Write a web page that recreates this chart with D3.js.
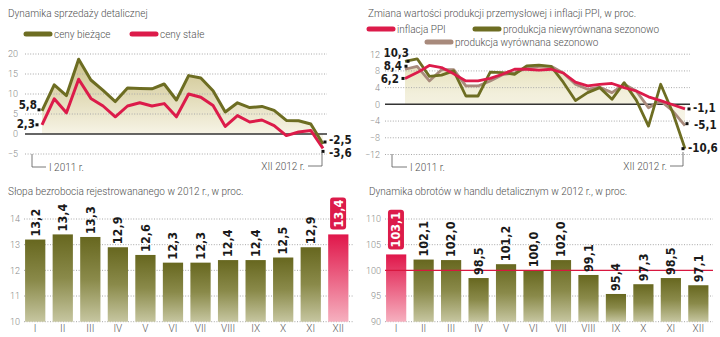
<!DOCTYPE html>
<html><head><meta charset="utf-8">
<script src="https://cdn.jsdelivr.net/npm/d3@7"></script>
<style>
body{margin:0;background:#fff}
svg{display:block}
text{font-family:Roboto,"Open Sans",sans-serif}
.bold{font-family:"Liberation Sans Narrow","DejaVu Sans Condensed","Roboto Condensed",sans-serif;font-weight:bold;font-stretch:condensed}
</style>
</head><body>
<svg id="c" width="720" height="337"></svg>
<script>
// ---------- DATA ----------
const months24 = ["I 2011","II 2011","III 2011","IV 2011","V 2011","VI 2011","VII 2011","VIII 2011","IX 2011","X 2011","XI 2011","XII 2011",
                  "I 2012","II 2012","III 2012","IV 2012","V 2012","VI 2012","VII 2012","VIII 2012","IX 2012","X 2012","XI 2012","XII 2012"];
const retailCurrent  = [5.8,12.3,9.6,18.7,13.5,10.9,8.1,11.5,11.4,11.3,12.5,8.5, 14.6,14.0,10.8,5.5,7.8,6.6,6.9,5.9,3.4,3.3,2.5,-2.5];
const retailConstant = [2.3,8.8,5.3,13.7,8.9,7.0,4.3,7.0,7.8,7.0,7.6,4.3, 10.0,9.2,7.1,1.9,4.6,3.0,3.5,2.1,-0.4,0.5,0.9,-3.6];
const ppi            = [6.2,7.6,9.3,8.8,7.3,5.6,5.6,6.2,7.2,8.4,8.4,8.2, 8.4,7.5,5.3,4.4,4.8,5.0,4.0,3.2,1.8,0.9,-0.1,-1.1];
const prodUnadjusted = [10.3,10.9,6.7,7.0,8.0,2.0,2.0,7.7,7.6,7.2,9.2,9.4, 9.1,5.3,0.9,2.8,4.0,1.2,5.2,1.0,-5.2,4.8,-2.0,-10.6];
const prodAdjusted   = [8.4,9.1,5.6,8.3,8.3,4.4,4.4,5.6,7.1,7.5,8.7,9.1, 9.1,7.5,4.8,3.6,4.1,2.8,4.8,3.2,-0.8,0.8,-1.6,-5.1];
const months12 = ["I","II","III","IV","V","VI","VII","VIII","IX","X","XI","XII"];
const unemployment = [13.2,13.4,13.3,12.9,12.6,12.3,12.3,12.4,12.4,12.5,12.9,13.4];
const retailIndex  = [103.1,102.1,102.0,98.5,101.2,100.0,102.0,99.1,95.4,97.3,98.5,97.1];
const ticks1 = [-5,0,5,10,15,20];
const ticks2 = [-12,-8,-4,0,4,8,12];
const ticks3 = [10,11,12,13,14];
const ticks4 = [90,95,100,105,110];
const titles = ["Dynamika sprzedaży detalicznej",
  "Zmiana wartości produkcji przemysłowej i inflacji PPI, w proc.",
  "Słopa bezrobocia rejestrowananego w 2012 r., w proc.",
  "Dynamika obrotów w handlu detalicznym w 2012 r., w proc."];

// ---------- STYLE ----------
const OLIVE="#6d6d22", RED="#dc1b4a", TAUPE="#a88a7c", GRID="#a8a8a8", TICK="#8a8a8a", TXT="#505050";
const loc = d3.formatLocale({decimal:",",thousands:" ",grouping:[3],currency:["",""],minus:"-"});
const fmt = loc.format(".1f");

const svg = d3.select("#c");
const defs = svg.append("defs");
function vgrad(id, stops, bbox, y1, y2){
  const g = defs.append("linearGradient").attr("id",id).attr("x1",0).attr("x2",0);
  if(bbox){ g.attr("y1",0).attr("y2",1); }
  else { g.attr("gradientUnits","userSpaceOnUse").attr("y1",y1).attr("y2",y2); }
  stops.forEach(s=>g.append("stop").attr("offset",s[0]).attr("stop-color",s[1]));
}
vgrad("fill1",[[0,"#cdc38c"],[1,"#f7f4e6"]],false,60,134);
vgrad("fill2",[[0,"#e2dcb0"],[0.55,"#f2efdb"],[1,"#f8f6ea"]],false,55,125);
vgrad("barO",[[0,"#67671f"],[0.5,"#8a8a4a"],[1,"#c6c6a0"]],true);
vgrad("barR",[[0,"#e0164a"],[1,"#f6b0bf"]],true);

function title(x,y,t){ svg.append("text").attr("x",x).attr("y",y).attr("fill",TXT).attr("font-size",10).attr("font-weight",300).text(t); }
function legend(x,y,color,label){
  svg.append("line").attr("x1",x).attr("x2",x+24).attr("y1",y).attr("y2",y).attr("stroke",color).attr("stroke-width",5).attr("stroke-linecap","round");
  svg.append("text").attr("x",x+28).attr("y",y+4).attr("fill",TXT).attr("font-size",10).attr("font-weight",300).text(label);
}
function yAxis(y, ticks, xLab, x0, x1, dottedSkip){
  const g = svg.append("g").attr("transform",`translate(${xLab},0)`)
    .call(d3.axisLeft(y).tickValues(ticks).tickSize(0).tickPadding(0).tickFormat(d3.format("d")));
  g.select(".domain").remove();
  g.selectAll("text").attr("fill",TICK).attr("font-size",9).attr("font-family","Roboto,sans-serif").attr("font-weight",300);
  ticks.filter(t=>!dottedSkip.includes(t)).forEach(t=>{
    svg.append("line").attr("x1",x0).attr("x2",x1).attr("y1",y(t)).attr("y2",y(t))
      .attr("stroke",GRID).attr("stroke-width",1).attr("stroke-dasharray","1,1.6");
  });
}
function label(x,y,t,anchor,size){
  svg.append("text").attr("class","bold").attr("x",x).attr("y",y).attr("text-anchor",anchor||"start")
    .attr("font-size",size||12).attr("fill","#1a1a1a").text(t);
}
function marker(x,y){ svg.append("rect").attr("x",x-1.5).attr("y",y-1.5).attr("width",3).attr("height",3).attr("fill","#111"); }
function bracket(xv, yTop, yBot, xh, tx, t, anchor){
  svg.append("path").attr("d",`M${xv},${yTop}V${yBot}H${xh}`).attr("fill","none").attr("stroke","#555").attr("stroke-width",0.8);
  svg.append("text").attr("x",tx).attr("y",yBot+4).attr("text-anchor",anchor).attr("fill",TXT).attr("font-size",10).attr("font-weight",300).text(t);
}

// ---------- CHART 1 ----------
{
  title(8,17,titles[0]);
  legend(26,34,OLIVE,"ceny bieżące");
  legend(132,34,RED,"ceny stałe");
  const x = d3.scalePoint().domain(months24).range([42,323]);
  const y = d3.scaleLinear().domain([-5,20]).range([154,54]);
  svg.append("path").datum(retailCurrent).attr("fill","url(#fill1)")
    .attr("d",d3.area().x((d,i)=>x(months24[i])).y0(y(0)).y1(d=>y(d)));
  yAxis(y,ticks1,18,25,327,[0]);
  svg.append("line").attr("x1",25).attr("x2",327).attr("y1",y(0)).attr("y2",y(0)).attr("stroke","#333").attr("stroke-width",1.5);
  const ln = d3.line().x((d,i)=>x(months24[i])).y(d=>y(d)).curve(d3.curveLinear);
  svg.append("path").datum(retailConstant).attr("fill","none").attr("stroke",RED).attr("stroke-width",3).attr("stroke-linejoin","round").attr("d",ln);
  svg.append("path").datum(retailCurrent).attr("fill","none").attr("stroke",OLIVE).attr("stroke-width",3).attr("stroke-linejoin","round").attr("d",ln);
  const x0 = x(months24[0]), xe = x(months24[23]);
  marker(x0-3,y(retailCurrent[0])-1); label(x0-5,y(retailCurrent[0])-1.5,fmt(retailCurrent[0]),"end",11.5);
  marker(x0-5,y(retailConstant[0])); label(x0-7,y(retailConstant[0])+3.5,fmt(retailConstant[0]),"end",11.5);
  marker(xe+2,y(retailCurrent[23])-2); label(xe+6,y(retailCurrent[23])-0.5,fmt(retailCurrent[23]),"start",11.5);
  marker(xe,y(retailConstant[23])+3); label(xe+6,y(retailConstant[23])+9,fmt(retailConstant[23]),"start",11.5);
  bracket(32,154,167,46,49,"I 2011 r.","start");
  bracket(xe-1,152,166,308,305,"XII 2012 r.","end");
}

// ---------- CHART 2 ----------
{
  title(368,17,titles[1]);
  legend(369,29,RED,"inflacja PPI");
  legend(475,29,OLIVE,"produkcja niewyrównana sezonowo");
  legend(427,42,TAUPE,"produkcja wyrównana sezonowo");
  const x = d3.scalePoint().domain(months24).range([405,685]);
  const y = d3.scaleLinear().domain([-12,12]).range([154.5,54.2]);
  svg.append("path").datum(prodAdjusted).attr("fill","url(#fill2)")
    .attr("d",d3.area().x((d,i)=>x(months24[i])).y0(y(0)).y1(d=>y(d)));
  yAxis(y,ticks2,380,385,690,[0]);
  svg.append("line").attr("x1",385).attr("x2",690).attr("y1",y(0)).attr("y2",y(0)).attr("stroke","#333").attr("stroke-width",1.5);
  const ln = d3.line().x((d,i)=>x(months24[i])).y(d=>y(d));
  [[prodAdjusted,TAUPE],[prodUnadjusted,OLIVE],[ppi,RED]].forEach(([d,c])=>{
    svg.append("path").datum(d).attr("fill","none").attr("stroke",c).attr("stroke-width",2.8).attr("stroke-linejoin","round").attr("d",ln);
  });
  const x0 = x(months24[0]), xe = x(months24[23]);
  marker(x0+3,y(prodUnadjusted[0])); label(x0+4,y(prodUnadjusted[0])-4,fmt(prodUnadjusted[0]),"end",11.5);
  marker(x0+1,y(prodAdjusted[0])-3); label(x0-3,y(prodAdjusted[0])+1,fmt(prodAdjusted[0]),"end",11.5);
  marker(x0-2,y(ppi[0])); label(x0-6,y(ppi[0])+5,fmt(ppi[0]),"end",11.5);
  marker(xe+4,y(ppi[23])); label(xe+8,y(ppi[23])+3,fmt(ppi[23]),"start",11.5);
  marker(xe+2,y(prodAdjusted[23])-2); label(xe+9,y(prodAdjusted[23])+3,fmt(prodAdjusted[23]),"start",11.5);
  marker(xe-2,y(prodUnadjusted[23])); label(xe+3,y(prodUnadjusted[23])+3,fmt(prodUnadjusted[23]),"start",11.5);
  bracket(392,154,167,407,410,"I 2011 r.","start");
  bracket(xe-2,152,166,670,667,"XII 2012 r.","end");
}

// ---------- BAR CHARTS ----------
function barChart(x0, x1, values, ticks, dom, highlight, refLine, ttl){
  title(x0-17,195,ttl);
  const x = d3.scaleBand().domain(months12).range([x0-3.5, x1]).paddingInner(0.265).paddingOuter(0.13);
  const y = d3.scaleLinear().domain(dom).range([321.7,219]);
  yAxis(y,ticks,x0-5,x0-1,x1+1,refLine!=null?[refLine]:[]);
  svg.selectAll(null).data(values).enter().append("rect")
    .attr("x",(d,i)=>x(months12[i])).attr("width",x.bandwidth())
    .attr("y",d=>y(d)).attr("height",d=>y(dom[0])-y(d))
    .attr("fill",(d,i)=>i===highlight?"url(#barR)":"url(#barO)");
  if(refLine!=null){
    svg.append("line").attr("x1",x0-1).attr("x2",x1+1).attr("y1",y(refLine)).attr("y2",y(refLine)).attr("stroke","#d8173f").attr("stroke-width",1.2);
  }
  values.forEach((v,i)=>{
    const cx = x(months12[i]) + x.bandwidth()/2;
    const gap = i===highlight ? 7 : 3;
    const g = svg.append("g").attr("transform",`translate(${cx+4.3},${y(v)-gap}) rotate(-90)`);
    const t = g.append("text").attr("class","bold").attr("font-size",12.5)
      .attr("fill",i===highlight?"#fff":"#1a1a1a").text(fmt(v));
    if(i===highlight){
      const b = t.node().getBBox();
      g.insert("rect","text").attr("x",b.x-2).attr("y",b.y-0.5).attr("width",b.width+4).attr("height",b.height+1)
        .attr("rx",3).attr("fill",RED);
    }
  });
  svg.selectAll(null).data(months12).enter().append("text")
    .attr("x",d=>x(d)+x.bandwidth()/2).attr("y",332).attr("text-anchor","middle")
    .attr("fill","#606060").attr("font-size",10).attr("font-weight",300).text(d=>d);
}
barChart(25, 352, unemployment, ticks3, [10,14], 11, null, titles[2]);
barChart(386, 712, retailIndex, ticks4, [90,110], 0, 100, titles[3]);
</script>
</body></html>
